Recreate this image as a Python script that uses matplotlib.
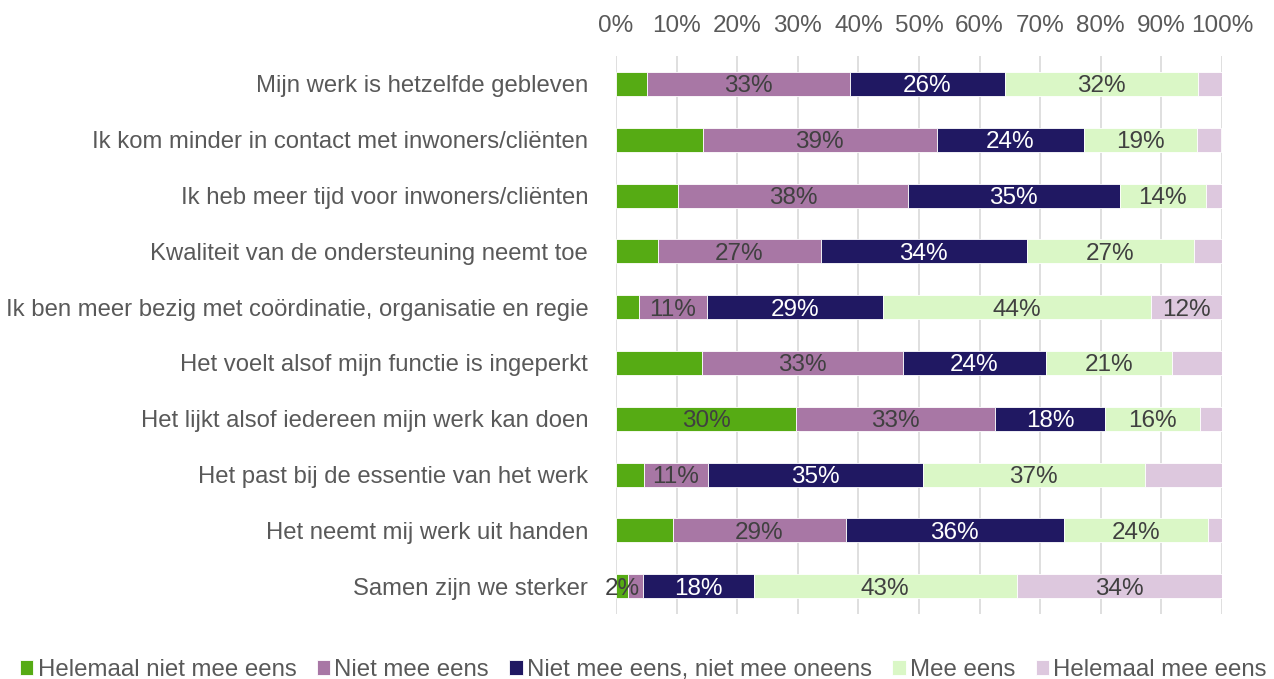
import matplotlib.pyplot as plt
import numpy as np

plt.rcParams['font.family'] = ['Liberation Sans', 'DejaVu Sans']

# DATA
# ====
categorieen = [
    "Mijn werk is hetzelfde gebleven",
    "Ik kom minder in contact met inwoners/cliënten",
    "Ik heb meer tijd voor inwoners/cliënten",
    "Kwaliteit van de ondersteuning neemt toe",
    "Ik ben meer bezig met coördinatie, organisatie en regie",
    "Het voelt alsof mijn functie is ingeperkt",
    "Het lijkt alsof iedereen mijn werk kan doen",
    "Het past bij de essentie van het werk",
    "Het neemt mij werk uit handen",
    "Samen zijn we sterker",
]

reeksen = ["Helemaal niet mee eens", "Niet mee eens", "Niet mee eens, niet mee oneens",
           "Mee eens", "Helemaal mee eens"]

helemaal_niet = [5.1, 14.3, 10.3, 6.9, 3.8, 14.2, 29.7, 4.6, 9.4, 2.0]
niet_mee = [33.5, 38.6, 37.9, 26.9, 11.2, 33.2, 32.9, 10.6, 28.5, 2.5]
neutraal = [25.6, 24.4, 34.9, 34.0, 29.0, 23.5, 18.1, 35.4, 36.0, 18.2]
mee_eens = [31.8, 18.6, 14.2, 27.6, 44.3, 20.9, 15.6, 36.7, 23.8, 43.4]
helemaal_mee = [4.0, 4.0, 2.8, 4.6, 11.8, 8.2, 3.8, 12.7, 2.3, 33.9]

# labels zoals getoond (leeg = geen label)
lbl_helemaal_niet = ["", "", "", "", "", "", "30%", "", "", "2%"]
lbl_niet_mee = ["33%", "39%", "38%", "27%", "11%", "33%", "33%", "11%", "29%", ""]
lbl_neutraal = ["26%", "24%", "35%", "34%", "29%", "24%", "18%", "35%", "36%", "18%"]
lbl_mee_eens = ["32%", "19%", "14%", "27%", "44%", "21%", "16%", "37%", "24%", "43%"]
lbl_helemaal_mee = ["", "", "", "", "12%", "", "", "", "", "34%"]

waarden = [helemaal_niet, niet_mee, neutraal, mee_eens, helemaal_mee]
labels = [lbl_helemaal_niet, lbl_niet_mee, lbl_neutraal, lbl_mee_eens, lbl_helemaal_mee]
kleuren = ["#56AB14", "#A877A5", "#201862", "#DAF7C6", "#DDC8DE"]
tekstkleur = ["#404040", "#404040", "white", "#404040", "#404040"]

# PLOT
# ====
fig = plt.figure(figsize=(12.74, 6.79), dpi=100)
ax = fig.add_axes([0.4835, 0.0957, 0.4757, 0.8218])

y = np.arange(len(categorieen))
links = np.zeros(len(categorieen))
for i in range(len(reeksen)):
    v = np.array(waarden[i])
    bars = ax.barh(y, v, left=links, height=0.43, color=kleuren[i], label=reeksen[i],
                   edgecolor="white", linewidth=0.6, zorder=2)
    teksten = ax.bar_label(bars, labels=labels[i], label_type='center',
                           color=tekstkleur[i], fontsize=17.5)
    for t in teksten:
        t.set_va('center_baseline')
    links = links + v

ax.set_xlim(0, 100)
ax.set_ylim(len(categorieen) - 0.5, -0.5)
ax.set_yticks(y)
ax.set_yticklabels(categorieen, fontsize=17.2, color="#595959")
ax.set_xticks(np.arange(0, 101, 10))
ax.set_xticklabels([f"{t}%" for t in range(0, 101, 10)], fontsize=17.5, color="#595959")
ax.xaxis.tick_top()
ax.tick_params(axis='x', length=0, pad=14)
ax.tick_params(axis='y', length=0, pad=20)
ax.grid(axis='x', color="#D9D9D9", linewidth=1.2, zorder=0)
ax.set_axisbelow(True)
for s in ax.spines.values():
    s.set_visible(False)

fig.legend(loc='lower center', bbox_to_anchor=(0.505, -0.035), ncol=5, frameon=False,
           fontsize=17.3, handlelength=0.55, handleheight=0.55, handletextpad=0.18,
           columnspacing=0.85, labelcolor="#595959")

fig.savefig("out.png", dpi=100)
